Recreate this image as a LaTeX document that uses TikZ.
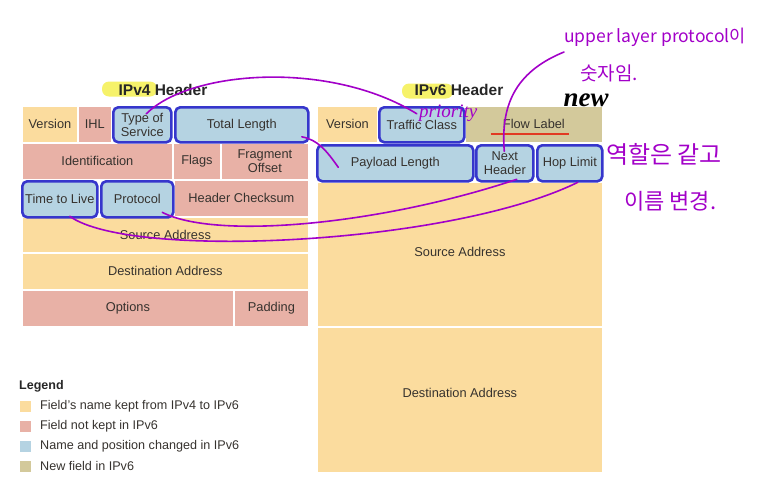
\documentclass[tikz,border=0pt]{standalone}
\usepackage{fontspec}
\setmainfont{Liberation Sans}
\newfontfamily\kfont{Noto Sans CJK KR}
\newfontfamily\hserif{Liberation Serif}
\usetikzlibrary{calc}
\definecolor{fyellow}{HTML}{FBDC9E}
\definecolor{fpink}{HTML}{E8B1A6}
\definecolor{fblue}{HTML}{B5D3E2}
\definecolor{folive}{HTML}{D3C99B}
\definecolor{bord}{HTML}{3636CC}
\definecolor{txt}{HTML}{36322E}
\definecolor{inkc}{HTML}{A200C8}
\definecolor{hlc}{HTML}{F6F26A}
\definecolor{redl}{HTML}{E23A22}
\begin{document}
\begin{tikzpicture}[x=1pt,y=-1pt,
  cell/.style={draw=white, line width=1.8pt, inner sep=0pt, anchor=north west, align=center,
    font=\fontsize{12.8}{14}\selectfont, text=txt},
  kept/.style={cell, fill=fyellow},
  gone/.style={cell, fill=fpink},
  moved/.style={cell, fill=fblue, draw=bord, line width=2.6pt, rounded corners=5pt},
  newf/.style={cell, fill=folive},
  ttl/.style={font=\bfseries\fontsize{15.5}{16}\selectfont, text=black!85},
  hlbox/.style={fill=hlc, draw=none, rounded corners=7pt, inner sep=0pt},
  legsq/.style={draw=none, inner sep=0pt, minimum width=11pt, minimum height=11pt},
  legtx/.style={anchor=west, font=\fontsize{12.6}{14}\selectfont, text=txt, inner sep=0pt},
  ink/.style={draw=inkc, line width=1.6pt, line cap=round},
  inktext/.style={text=inkc, inner sep=0pt, anchor=west},
]
\useasboundingbox (0,0) rectangle (761,485);

% ---------- titles ----------
\node[hlbox, minimum width=55pt, minimum height=15pt] (hl4) at (129.5,89) {};
\node[ttl] (t4) at (163,90) {IPv4 Header};
\node[hlbox, minimum width=51pt, minimum height=15pt] (hl6) at (427.5,91) {};
\node[ttl] (t6) at (459,90) {IPv6 Header};

% ---------- IPv4 header ----------
\node[kept, minimum width=56pt, minimum height=37pt] (v4ver) at (21,105) {Version};
\node[gone, minimum width=34pt, minimum height=37pt] (v4ihl) at (77,105) {IHL};
\node[gone, minimum width=151pt, minimum height=37pt] (v4id) at (21,142) {Identification};
\node[gone, minimum width=48pt, minimum height=37pt] (v4fl) at (172,142) {Flags};
\node[gone, minimum width=88pt, minimum height=37pt] (v4fo) at (220,142) {Fragment\\Offset};
\node[gone, minimum width=135pt, minimum height=37pt] (v4cs) at (173,179) {Header Checksum};
\node[kept, minimum width=287pt, minimum height=36pt] (v4sa) at (21,216) {Source Address};
\node[kept, minimum width=287pt, minimum height=37pt] (v4da) at (21,252) {Destination Address};
\node[gone, minimum width=212pt, minimum height=37pt] (v4op) at (21,289) {Options};
\node[gone, minimum width=75pt, minimum height=37pt] (v4pd) at (233,289) {Padding};

\node[moved, minimum width=58pt, minimum height=35pt] (v4tos) at (112,106) {Type of\\Service};
\node[moved, minimum width=133pt, minimum height=35pt] (v4tl) at (174,106) {Total Length};
\node[moved, minimum width=75pt, minimum height=36pt] (v4ttl) at (21,180) {Time to Live};
\node[moved, minimum width=72pt, minimum height=36pt] (v4pr) at (100,180) {Protocol};

% ---------- IPv6 header ----------
\node[kept, minimum width=61pt, minimum height=37pt] (v6ver) at (316,105) {Version};
\node[newf, minimum width=138pt, minimum height=37pt] (v6fl) at (464,105) {Flow Label};
\node[kept, minimum width=286pt, minimum height=145pt, text depth=6pt] (v6sa) at (316,181) {Source Address};
\node[kept, minimum width=286pt, minimum height=146pt, text depth=15pt] (v6da) at (316,326) {Destination Address};

\node[moved, minimum width=85pt, minimum height=35pt] (v6tc) at (378,106) {Traffic Class};
\node[moved, minimum width=156pt, minimum height=36pt] (v6pl) at (316,144) {Payload Length};
\node[moved, minimum width=57pt, minimum height=36pt] (v6nh) at (475,144) {Next\\Header};
\node[moved, minimum width=65pt, minimum height=36pt] (v6hl) at (536,144) {Hop Limit};

% ---------- legend ----------
\node[legtx, font=\bfseries\fontsize{12.5}{14}\selectfont, text=black!85] (leg) at (19,386) {Legend};
\node[legsq, fill=fyellow] (lq1) at (25,406) {};
\node[legtx] (lt1) at (40,406) {Field's name kept from IPv4 to IPv6};
\node[legsq, fill=fpink] (lq2) at (25,426) {};
\node[legtx] (lt2) at (40,426) {Field not kept in IPv6};
\node[legsq, fill=fblue] (lq3) at (25,446) {};
\node[legtx] (lt3) at (40,446) {Name and position changed in IPv6};
\node[legsq, fill=folive] (lq4) at (25,466) {};
\node[legtx] (lt4) at (40,466) {New field in IPv6};

% ---------- handwritten annotations ----------
\node[inner sep=0pt, font=\hserif\bfseries\itshape\fontsize{27}{27}\selectfont] (newtag) at (586,100) {new};
\draw[redl, line width=1.3pt] ([shift={(-43,9.5)}]v6fl.center) -- ([shift={(35,9.5)}]v6fl.center);
\node[inktext, font=\hserif\itshape\fontsize{19}{19}\selectfont] (prio) at (419,113) {priority};

\node[inktext, font=\kfont\fontsize{17.5}{18}\selectfont] (up1) at (564,37) {upper layer protocol이};
\node[inktext, font=\kfont\fontsize{19}{19}\selectfont] (up2) at (580,73) {숫자임.};
\node[inktext, font=\kfont\fontsize{24}{24}\selectfont] (kr1) at (606,154) {역할은 같고};
\node[inktext, font=\kfont\fontsize{22}{22}\selectfont] (kr2) at (624,201) {이름 변경.};

% ---------- purple connectors ----------
\draw[ink] ([shift={(4,-11)}]v4tos.center) .. controls (190,70) and (330,60) .. ([shift={(-5,-11)}]v6tc.center);
\draw[ink] ([shift={(60,12)}]v4tl.center) .. controls (318,140) and (326,150) .. ([shift={(-57,4)}]v6pl.center);
\draw[ink] ([shift={(25,13)}]v4pr.center) .. controls (215,240) and (380,225) .. ([shift={(12,16)}]v6nh.center);
\draw[ink] ([shift={(10,17)}]v4ttl.center) .. controls (130,260) and (450,245) .. ([shift={(8,19)}]v6hl.center);
\coordinate (upend) at (564,52);
\draw[ink] (upend) .. controls (520,70) and (500,100) .. ([shift={(-0.5,-12)}]v6nh.center);
\end{tikzpicture}
\end{document}
